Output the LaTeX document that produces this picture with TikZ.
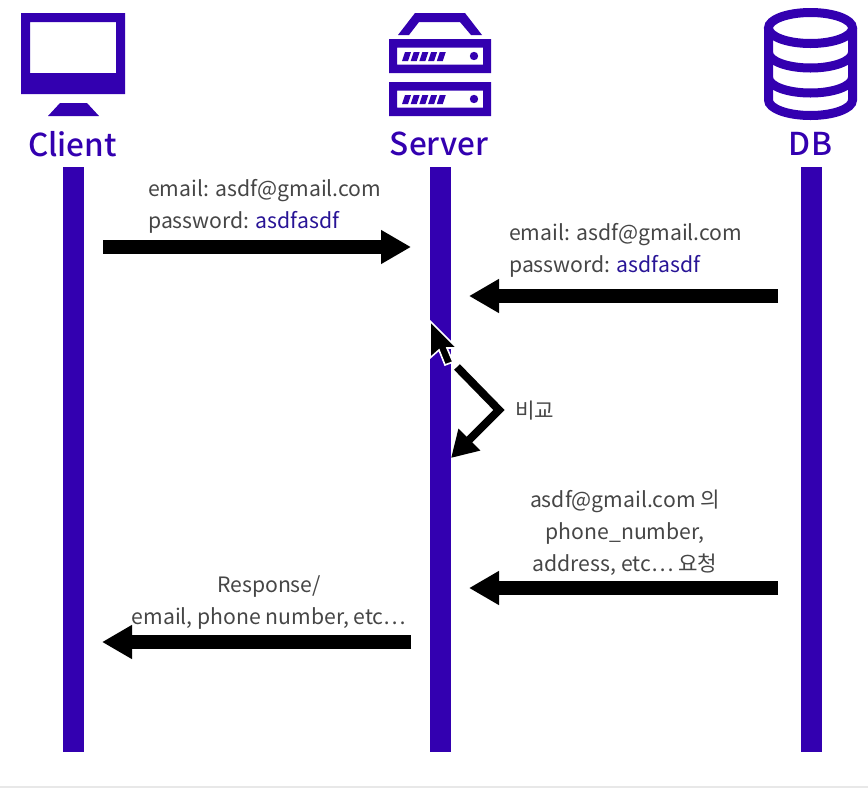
\documentclass[tikz,border=0pt]{standalone}
\usepackage{xcolor}
\usepackage{fontspec}
\setmainfont{Noto Sans CJK KR}
\newfontfamily\titlefont{Noto Sans CJK KR Medium}
\usetikzlibrary{positioning, arrows.meta}

\definecolor{seqblue}{RGB}{51,0,176}
\definecolor{seqgray}{RGB}{70,70,70}
\definecolor{seqlink}{RGB}{40,20,150}

\begin{document}
\begin{tikzpicture}[
        x=1pt, y=-1pt,
        % Vertical lifelines
        lifeline/.style={
            rectangle, fill=seqblue, inner sep=0pt,
            minimum width=21pt, minimum height=585pt
        },
        % Actor names under the icons
        actor/.style={
            text=seqblue, inner sep=0pt, font=\titlefont\fontsize{31.5}{36}\selectfont
        },
        % Message text
        msgtext/.style={
            text=seqgray, inner sep=0pt, font=\fontsize{21.2}{32}\selectfont
        },
        % Thick black arrows
        msg/.style={
            draw=black, line width=14pt,
            -{Triangle[length=30pt, width=32pt]}
        },
        selfmsg/.style={
            draw=black, line width=8pt, miter limit=10,
            -{Triangle[length=26pt, width=29pt]}
        },
        icon/.style={fill=seqblue, draw=none}
    ]

        \useasboundingbox (0,0) rectangle (868,788);

        % Bottom edge
        \fill[black!9] (0,786) rectangle (868,788);

        % Client icon
        \fill[icon, even odd rule] (21,13) rectangle (125,94) (30,22) rectangle (116,73);
        \fill[icon] (48,116) -- (60,103) -- (87,103) -- (99,116) -- cycle;

        % Server icon
        \fill[icon] (398,35) -- (415,13) -- (465,13) -- (482,35) -- (471,35)
                    -- (460,22) -- (419,22) -- (409,35) -- cycle;
        \foreach \y in {39,82} {
            \fill[icon, even odd rule] (389,\y) rectangle (491,\y+34)
                                       (397,\y+8.5) rectangle (483,\y+25.5);
            \fill[icon] (474,\y+17) circle (4.2);
            \foreach \x in {0,...,4} {
                \fill[icon] (402+\x*8.7,\y+22) -- (405+\x*8.7,\y+13) -- (411+\x*8.7,\y+13)
                            -- (408+\x*8.7,\y+22) -- cycle;
            }
        }

        % DB icon
        \draw[seqblue, line width=9pt] (810.5,28) ellipse (42 and 15.5);
        \draw[seqblue, line width=9pt] (768.5,28) -- (768.5,100)
            arc[start angle=180, end angle=360, x radius=42, y radius=-15.5] -- (852.5,28);
        \foreach \y in {52.5,77.5} {
            \draw[seqblue, line width=9pt] (768.5,\y)
                arc[start angle=180, end angle=360, x radius=42, y radius=-15.5];
        }

        % Actor names
        \node[actor] (client) at (72.5,144) {Client};
        \node[actor] (server) at (439,144) {Server};
        \node[actor] (db) at (810.5,144) {DB};

        % Lifelines
        \node[lifeline] (clientline) at (73,459.5) {};
        \node[lifeline] (serverline) at (440.5,459.5) {};
        \node[lifeline] (dbline) at (811,459.5) {};

        % Arrow ends
        \coordinate (a1) at (103,247);
        \coordinate (b1) at (411,247);
        \coordinate (a2) at (778,296);
        \coordinate (b2) at (469,296);
        \coordinate (a3) at (457,367);
        \coordinate (c3) at (499,410);
        \coordinate (b3) at (451,458);
        \coordinate (a4) at (778,588);
        \coordinate (b4) at (469,588);
        \coordinate (a5) at (411,642);
        \coordinate (b5) at (102,642);

        % Messages
        \draw[msg] (a1) -- (b1);
        \draw[msg] (a2) -- (b2);
        \draw[selfmsg] (a3) -- (c3) -- (b3);
        \draw[msg] (a4) -- (b4);
        \draw[msg] (a5) -- (b5);

        % Message labels
        \node[msgtext, anchor=west, align=left] (login) at (148,206.5)
            {email: asdf@gmail.com\\password: \textcolor{seqlink}{asdfasdf}};
        \node[msgtext, anchor=west, align=left] (dbrow) at (509,250.5)
            {email: asdf@gmail.com\\password: \textcolor{seqlink}{asdfasdf}};
        \node[msgtext, anchor=west] (compare) at (515,411) {비교};
        \node[msgtext, align=center] (request) at (625,532.5)
            {asdf@gmail.com 의\\phone\_number,\\address, etc… 요청};
        \node[msgtext, align=center] (response) at (269,602.5)
            {Response/\\email, phone number, etc…};

        % Mouse cursor
        \filldraw[black, draw=white, line width=1.6pt, line join=miter]
            (430,321) -- (430,358) -- (439,350) -- (445,365) -- (453,362) -- (447,348) -- (457,348) -- cycle;

    \end{tikzpicture}
\end{document}
